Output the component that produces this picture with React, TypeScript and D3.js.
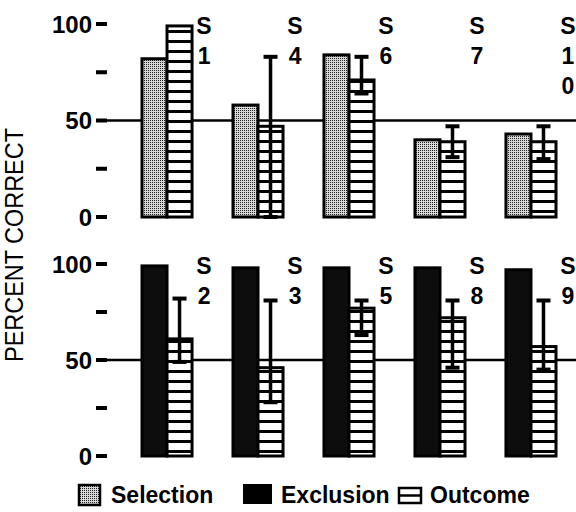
import React from 'react'
import * as d3 from 'd3'

// top panel: Selection vs Outcome
const topSubjects = ['1', '4', '6', '7', '10']
const topSelection = [82, 58, 84, 40, 43]
const topOutcome = [99, 47, 71, 39, 39]
const topErrHigh = [null, 83, 83, 47, 47]
const topErrLow = [null, 0, 64, 31, 30]

// bottom panel: Exclusion vs Outcome
const botSubjects = ['2', '3', '5', '8', '9']
const botExclusion = [99, 98, 98, 98, 97]
const botOutcome = [61, 46, 77, 72, 57]
const botErrHigh = [82, 81, 81, 81, 81]
const botErrLow = [49, 28, 63, 46, 45]

const yTicks = [0, 25, 50, 75, 100]
const yTickLabels: Record<number, string> = { 0: '0', 50: '50', 100: '100' }
const legendItems = ['Selection', 'Exclusion', 'Outcome']

const W = 576
const H = 512
const FONT = '"Liberation Sans", Arial, Helvetica, sans-serif'

function Panel({ y, subjects, first, firstFill, outcome, errHigh, errLow }: any) {
  const x = d3.scaleBand<number>()
    .domain(d3.range(subjects.length))
    .range([142, 556])
    .paddingInner(0.45)
    .paddingOuter(0)
  const bw = x.bandwidth() / 2
  return (
    <g>
      {/* 50% chance line */}
      <line x1={96} x2={W} y1={y(50)} y2={y(50)} stroke='#000' strokeWidth={2.5} />
      {yTicks.map(t => (
        <g key={t}>
          <rect x={96} y={y(t) - 2} width={11} height={4} fill='#000' />
          {yTickLabels[t] !== undefined && (
            <text x={92} y={y(t)} dy='0.36em' textAnchor='end'
              fontFamily={FONT} fontWeight='bold' fontSize={24}>{yTickLabels[t]}</text>
          )}
        </g>
      ))}
      {subjects.map((s: string, i: number) => {
        const x0 = x(i) as number
        const cx = x0 + bw + bw / 2
        const chars = ['S', ...s.split('')]
        return (
          <g key={s}>
            <rect x={x0} y={y(first[i])} width={bw} height={y(0) - y(first[i])}
              fill={firstFill} stroke='#000' strokeWidth={3} />
            <rect x={x0 + bw} y={y(outcome[i])} width={bw} height={y(0) - y(outcome[i])}
              fill='url(#stripes)' stroke='#000' strokeWidth={3} />
            {errHigh[i] != null && (
              <g stroke='#000'>
                <line x1={cx} x2={cx} y1={y(errHigh[i])} y2={y(errLow[i])} strokeWidth={3.5} />
                <line x1={cx - 7} x2={cx + 7} y1={y(errHigh[i])} y2={y(errHigh[i])} strokeWidth={4} />
                <line x1={cx - 7} x2={cx + 7} y1={y(errLow[i])} y2={y(errLow[i])} strokeWidth={4} />
              </g>
            )}
            {chars.map((c, k) => (
              <text key={k} x={x0 + 2 * bw + 12} y={y(100) + 10 + k * 30} textAnchor='middle'
                fontFamily={FONT} fontWeight='bold' fontSize={23}>{c}</text>
            ))}
          </g>
        )
      })}
    </g>
  )
}

export default function App() {
  const yTop = d3.scaleLinear().domain([0, 100]).range([217, 24])
  const yBot = d3.scaleLinear().domain([0, 100]).range([456, 264])
  return (
    <svg width={W} height={H} style={{ position: 'absolute', left: 0, top: 0, background: '#fff' }}>
      <defs>
        <pattern id='stipple' width={2} height={2} patternUnits='userSpaceOnUse'>
          <rect width={2} height={2} fill='#d8d8d8' />
          <rect width={1} height={1} fill='#222' />
        </pattern>
        <pattern id='stripes' width={10} height={10} patternUnits='userSpaceOnUse'>
          <rect width={10} height={10} fill='#fff' />
          <rect y={0} width={10} height={3} fill='#000' />
        </pattern>
      </defs>
      <rect width={W} height={H} fill='#fff' />
      <Panel y={yTop} subjects={topSubjects} first={topSelection} firstFill='url(#stipple)'
        outcome={topOutcome} errHigh={topErrHigh} errLow={topErrLow} />
      <Panel y={yBot} subjects={botSubjects} first={botExclusion} firstFill='#0d0d0d'
        outcome={botOutcome} errHigh={botErrHigh} errLow={botErrLow} />
      <text transform='translate(23,245) rotate(-90)' textAnchor='middle'
        fontFamily={FONT} fontSize={26} textLength={234} lengthAdjust='spacingAndGlyphs'>PERCENT CORRECT</text>
      <g fontFamily={FONT} fontWeight='bold' fontSize={23}>
        <rect x={79} y={485} width={21} height={20} fill='url(#stipple)' stroke='#000' strokeWidth={2.5} />
        <text x={111} y={503}>{legendItems[0]}</text>
        <rect x={243} y={484} width={29} height={20} fill='#000' />
        <text x={281} y={503}>{legendItems[1]}</text>
        <rect x={399} y={488} width={22} height={15} fill='#fff' stroke='#000' strokeWidth={2.5} />
        <line x1={399} x2={421} y1={495.5} y2={495.5} stroke='#000' strokeWidth={2.5} />
        <text x={430} y={503}>{legendItems[2]}</text>
      </g>
    </svg>
  )
}
